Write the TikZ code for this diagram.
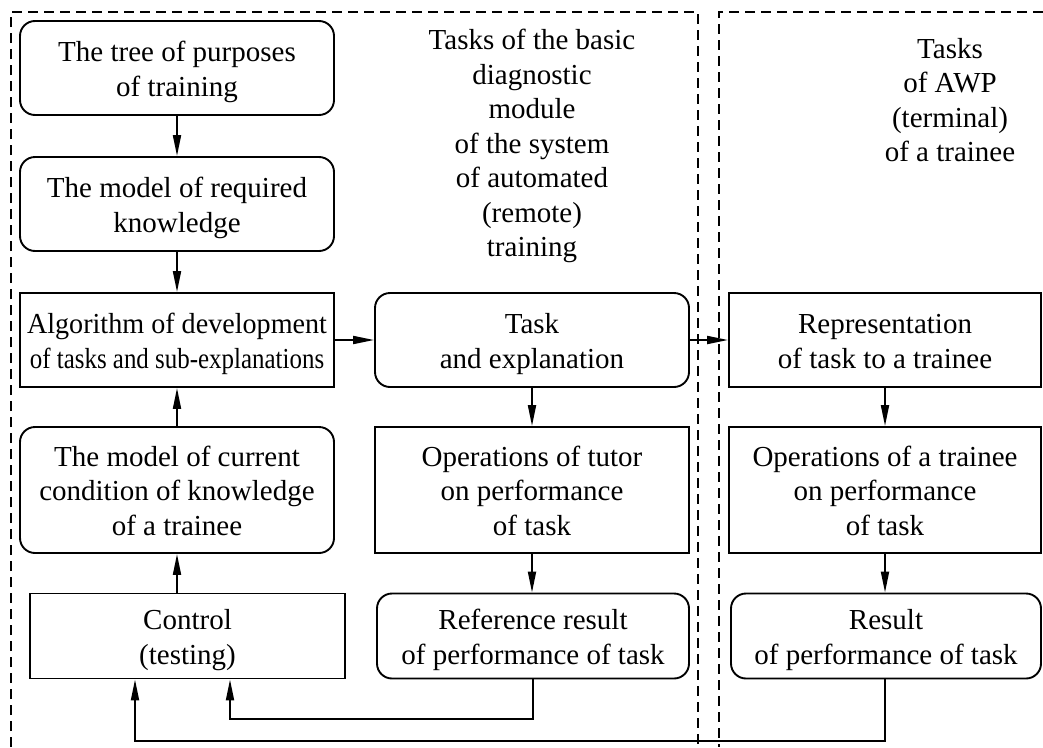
\documentclass[tikz,border=0pt]{standalone}
\usepackage{fontspec}
\setmainfont{Liberation Serif}
\usepackage{graphicx}
\usetikzlibrary{arrows.meta}
\newcommand\boxtxt[1]{\raisebox{-4pt}[\height][\depth]{\begin{tabular}{@{}c@{}}#1\end{tabular}}}
\begin{document}
\begin{tikzpicture}[x=1pt,y=-1pt,
  every node/.style={font=\fontsize{29}{34.5}\selectfont},
  box/.style={draw, line width=1.9pt, inner sep=0pt, align=center, minimum width=314pt, minimum height=94pt},
  rbox/.style={box, rounded corners=15pt},
  sbox/.style={box},
  conn/.style={line width=1.9pt, -{Triangle[length=21pt,width=8pt]}},
  frame/.style={line width=1.4pt, dash pattern=on 10pt off 6pt},
  label/.style={align=center, inner sep=0pt}]
\useasboundingbox (0,0) rectangle (1043,747);
% dashed frames
\draw[frame] (11,747) -- (11,12) -- (698,12) -- (698,747);
\draw[frame] (1043,12) -- (719,12) -- (719,747);
% headers
\node[label] (h1) at (532,146) {Tasks of the basic\\diagnostic\\module\\of the system\\of automated\\(remote)\\training};
\node[label] (h2) at (950,100) {Tasks\\of AWP\\(terminal)\\of a trainee};
% column 1
\node[rbox] (tree) at (177,68) {\boxtxt{The tree of purposes\\of training}};
\node[rbox] (req) at (177,204) {\boxtxt{The model of required\\knowledge}};
\node[sbox] (alg) at (177,340) {\boxtxt{\scalebox{0.97}[1]{Algorithm of development}\\\scalebox{0.86}[1]{of tasks and sub-explanations}}};
\node[rbox, minimum height=126pt] (cur) at (177,490) {\boxtxt{The model of current\\condition of knowledge\\of a trainee}};
\node[sbox, minimum width=315pt, minimum height=85pt] (ctrl) at (187.5,636) {\boxtxt{Control\\(testing)}};
% column 2
\node[rbox] (task) at (532,340) {\boxtxt{Task\\and explanation}};
\node[sbox, minimum height=126pt] (optut) at (532,490) {\boxtxt{Operations of tutor\\on performance\\of task}};
\node[rbox, minimum width=312pt, minimum height=85pt] (ref) at (533,636) {\boxtxt{Reference result\\of performance of task}};
% column 3
\node[sbox, minimum width=312pt] (rep) at (885,340) {\boxtxt{Representation\\of task to a trainee}};
\node[sbox, minimum width=312pt, minimum height=126pt] (optr) at (885,490) {\boxtxt{Operations of a trainee\\on performance\\of task}};
\node[rbox, minimum width=310pt, minimum height=85pt] (res) at (886,636) {\boxtxt{Result\\of performance of task}};
% connectors
\draw[conn] (tree) -- (req);
\draw[conn] (req) -- (alg);
\draw[conn] (cur) -- (alg);
\draw[conn] (ctrl.north -| cur.south) -- (cur.south);
\draw[conn] (alg) -- (task);
\draw[conn] (task) -- (rep);
\draw[conn] (task) -- (optut);
\draw[conn] (optut.south) -- (optut.south |- ref.north);
\draw[conn] (rep) -- (optr);
\draw[conn] (optr.south) -- (optr.south |- res.north);
\coordinate (l1) at (230,719);
\coordinate (l2) at (135,741);
\draw[conn] (ref.south) |- (l1) -- (l1 |- ctrl.south);
\draw[conn] (optr.south |- res.south) |- (l2) -- (l2 |- ctrl.south);
\end{tikzpicture}
\end{document}
